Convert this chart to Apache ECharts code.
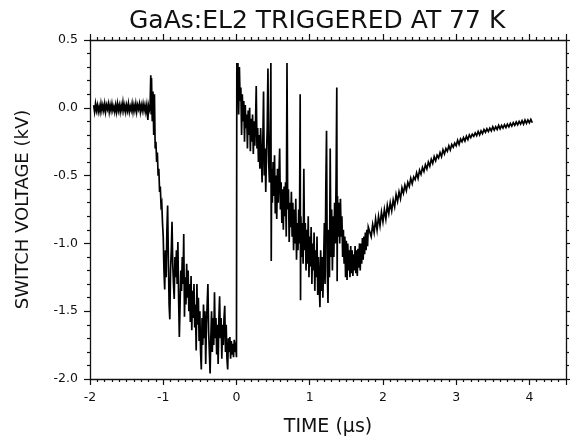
<!DOCTYPE html>
<html>
<head>
<meta charset="utf-8">
<script src="https://cdn.jsdelivr.net/npm/echarts@6/dist/echarts.min.js"></script>
<style>
  html, body { margin: 0; padding: 0; background: #fff; }
  #chart { width: 570px; height: 443px; }
</style>
</head>
<body>
<div id="chart"></div>
<script>
// switch voltage trace, [time (us), voltage (kV)]
const baseline = [
  [-1.95, 0.02], [-1.9375, -0.03], [-1.925, 0.03], [-1.9125, -0.02], [-1.9, 0.02], [-1.8875, -0.03],
  [-1.875, 0.01], [-1.8625, -0.03], [-1.85, 0.03], [-1.8375, -0.02], [-1.825, 0.02], [-1.8125, -0.02],
  [-1.8, 0.03], [-1.7875, -0.03], [-1.775, 0.02], [-1.7625, -0.01], [-1.75, 0.03], [-1.7375, -0.03],
  [-1.725, 0.02], [-1.7125, -0.02], [-1.7, 0.03], [-1.6875, -0.02], [-1.675, 0.01], [-1.6625, -0.03],
  [-1.65, 0.02], [-1.6375, -0.03], [-1.625, 0.03], [-1.6125, -0.02], [-1.6, 0.02], [-1.5875, -0.03],
  [-1.575, 0.02], [-1.5625, -0.02], [-1.55, 0.04], [-1.5375, -0.02], [-1.525, 0.02], [-1.5125, -0.03],
  [-1.5, 0.02], [-1.4875, -0.02], [-1.475, 0.03], [-1.4625, -0.03], [-1.45, 0.01], [-1.4375, -0.02],
  [-1.425, 0.03], [-1.4125, -0.03], [-1.4, 0.02], [-1.3875, -0.02], [-1.375, 0.03], [-1.3625, -0.03],
  [-1.35, 0.02], [-1.3375, -0.01], [-1.325, 0.03], [-1.3125, -0.03], [-1.3, 0.02], [-1.2875, -0.02],
  [-1.275, 0.03], [-1.2625, -0.02], [-1.25, 0.02], [-1.2375, -0.03], [-1.225, 0.02], [-1.21, -0.09],
  [-1.2, 0.01]
];

const onset = [
  [-1.19, -0.02], [-1.18, 0.0], [-1.17, 0.24], [-1.165, -0.05], [-1.16, 0.22], [-1.15, -0.1],
  [-1.14, 0.12], [-1.13, -0.2], [-1.12, 0.1], [-1.11, -0.3], [-1.1, -0.25], [-1.09, -0.4],
  [-1.08, -0.33], [-1.07, -0.5], [-1.06, -0.45], [-1.05, -0.62], [-1.04, -0.58], [-1.03, -0.72],
  [-1.02, -0.7], [-1.01, -0.85]
];

const collapse = [
  [-1.0, -0.95], [-0.99, -1.2], [-0.98, -1.34], [-0.97, -1.05], [-0.96, -1.25], [-0.95, -0.9],
  [-0.94, -0.72], [-0.93, -1.1], [-0.92, -1.45], [-0.91, -1.56], [-0.9, -1.2], [-0.89, -1.05],
  [-0.88, -0.84], [-0.87, -1.15], [-0.86, -1.3], [-0.85, -1.41], [-0.84, -1.1], [-0.83, -1.25],
  [-0.82, -1.05], [-0.81, -1.3], [-0.8, -0.99], [-0.79, -1.4], [-0.78, -1.69], [-0.77, -1.45],
  [-0.76, -1.2], [-0.75, -1.35], [-0.74, -1.1], [-0.73, -1.3], [-0.72, -0.93], [-0.71, -1.54],
  [-0.7, -1.25], [-0.69, -1.45], [-0.68, -1.15], [-0.67, -1.4], [-0.66, -1.2], [-0.65, -1.5],
  [-0.64, -1.3], [-0.63, -1.58], [-0.62, -1.24], [-0.61, -1.64], [-0.6, -1.35], [-0.59, -1.55],
  [-0.58, -1.3], [-0.57, -1.62], [-0.56, -1.45], [-0.55, -1.79], [-0.54, -1.3], [-0.53, -1.6],
  [-0.52, -1.4], [-0.51, -1.72], [-0.5, -1.5], [-0.49, -1.8], [-0.48, -1.93], [-0.47, -1.55],
  [-0.46, -1.75], [-0.45, -1.45], [-0.44, -1.7], [-0.43, -1.5], [-0.42, -1.89], [-0.41, -1.6],
  [-0.4, -1.45], [-0.39, -1.3], [-0.38, -1.65], [-0.37, -1.8], [-0.36, -1.96], [-0.35, -1.7],
  [-0.34, -1.5], [-0.33, -1.8], [-0.32, -1.55], [-0.31, -1.75], [-0.3, -1.36], [-0.29, -1.7],
  [-0.28, -1.55], [-0.27, -1.82], [-0.26, -1.6], [-0.25, -1.89], [-0.24, -1.55], [-0.23, -1.39],
  [-0.22, -1.7], [-0.21, -1.55], [-0.2, -1.85], [-0.19, -1.6], [-0.18, -1.75], [-0.17, -1.55],
  [-0.16, -1.46], [-0.15, -1.8], [-0.14, -1.6], [-0.13, -1.85], [-0.12, -1.93], [-0.11, -1.7],
  [-0.1, -1.8], [-0.09, -1.69], [-0.08, -1.85], [-0.07, -1.72], [-0.06, -1.82], [-0.05, -1.74],
  [-0.04, -1.84], [-0.03, -1.71], [-0.02, -1.8], [-0.01, -1.76], [0.0, -1.84]
];

const recovery = [
  [0.005, 0.33], [0.01, 0.2], [0.02, 0.33], [0.03, -0.05], [0.04, 0.3], [0.05, 0.05], [0.06, 0.15],
  [0.07, -0.2], [0.08, 0.1], [0.09, -0.1], [0.1, 0.05], [0.11, -0.25], [0.12, 0.02], [0.13, -0.15],
  [0.14, -0.05], [0.15, -0.3], [0.16, -0.02], [0.17, -0.2], [0.18, 0.0], [0.19, -0.32], [0.2, -0.08],
  [0.21, -0.25], [0.22, -0.05], [0.23, -0.34], [0.24, -0.1], [0.25, -0.28], [0.26, -0.12], [0.27, 0.16],
  [0.28, -0.3], [0.29, -0.15], [0.3, -0.4], [0.31, -0.2], [0.32, -0.45], [0.33, -0.15], [0.34, -0.35],
  [0.35, -0.55], [0.36, -0.25], [0.37, 0.12], [0.38, -0.5], [0.39, -0.3], [0.4, -0.62], [0.41, -0.35],
  [0.42, -0.15], [0.43, 0.29], [0.44, -0.4], [0.45, -0.55], [0.46, -0.25], [0.47, 0.33], [0.475, -1.13],
  [0.48, -0.45], [0.49, -0.7], [0.5, -0.4], [0.51, -0.65], [0.52, -0.35], [0.53, -0.78], [0.54, -0.5],
  [0.55, -0.82], [0.56, -0.45], [0.57, -0.7], [0.58, -0.5], [0.59, -0.3], [0.6, -0.75], [0.61, -0.55],
  [0.62, -0.85], [0.63, -0.6], [0.64, -0.9], [0.65, -0.58], [0.66, -0.8], [0.67, -0.55], [0.68, -0.95],
  [0.69, 0.33], [0.7, -0.75], [0.71, -0.6], [0.72, -0.99], [0.73, -0.7], [0.74, -0.88], [0.75, -0.62],
  [0.76, -0.95], [0.77, -0.7], [0.78, -1.05], [0.79, -0.75], [0.8, -1.0], [0.81, -0.67], [0.82, -1.12],
  [0.83, -0.85], [0.84, -1.05], [0.85, -0.75], [0.86, -1.0], [0.87, 0.1], [0.875, -1.42], [0.88, -0.8],
  [0.89, -1.1], [0.9, -0.85], [0.91, -1.15], [0.92, -0.45], [0.93, -1.05], [0.94, -0.85], [0.95, -1.2],
  [0.96, -0.9], [0.97, -1.15], [0.98, -0.8], [0.99, -1.25], [1.0, -0.95], [1.01, -1.17], [1.02, -0.88],
  [1.03, -1.3], [1.04, -1.0], [1.05, -1.2], [1.06, -0.92], [1.07, -1.35], [1.08, -1.05], [1.09, -1.25],
  [1.1, -0.95], [1.11, -1.38], [1.12, -1.1], [1.13, -1.3], [1.14, -1.47], [1.15, -1.05], [1.16, -1.35],
  [1.17, -1.1], [1.18, -1.4], [1.19, -1.15], [1.2, -0.85], [1.21, -1.3], [1.22, -0.6], [1.23, -0.17],
  [1.24, -1.2], [1.25, -1.44], [1.26, -0.9], [1.27, -1.25], [1.28, -0.3], [1.29, -1.1], [1.3, -0.75],
  [1.31, -1.2], [1.32, -0.8], [1.33, -1.1], [1.34, -0.7], [1.35, -1.0], [1.36, -0.55], [1.37, 0.15],
  [1.375, -1.28], [1.38, -0.65], [1.39, -0.95], [1.4, -0.7], [1.41, -1.0], [1.42, -0.67], [1.43, -0.95],
  [1.44, -0.8], [1.45, -1.1], [1.46, -0.9], [1.47, -1.15], [1.48, -0.95], [1.49, -1.25], [1.5, -0.98],
  [1.51, -1.27], [1.52, -1.0], [1.53, -1.2], [1.54, -1.05], [1.55, -1.25], [1.56, -1.02], [1.57, -1.22],
  [1.58, -1.05], [1.59, -1.24], [1.6, -1.08], [1.61, -1.2], [1.62, -1.02], [1.63, -1.22], [1.64, -1.05],
  [1.65, -1.24], [1.66, -1.04], [1.67, -1.18], [1.68, -1.0], [1.69, -1.2], [1.7, -1.0], [1.71, -1.15],
  [1.72, -0.96], [1.73, -1.12], [1.74, -0.95], [1.75, -1.08], [1.76, -0.92], [1.77, -1.05], [1.78, -0.9],
  [1.79, -1.02], [1.8, -0.88]
];

const relax = [
  [1.82, -0.88], [1.84, -0.95], [1.86, -0.86], [1.88, -0.92], [1.9, -0.82], [1.92, -0.9], [1.94, -0.8],
  [1.96, -0.87], [1.98, -0.77], [2.0, -0.84], [2.02, -0.75], [2.04, -0.82], [2.06, -0.72], [2.08, -0.78],
  [2.1, -0.7], [2.12, -0.76], [2.14, -0.68], [2.16, -0.73], [2.18, -0.64], [2.2, -0.69], [2.22, -0.62],
  [2.24, -0.67], [2.26, -0.59], [2.28, -0.63], [2.3, -0.57], [2.32, -0.61], [2.34, -0.55], [2.36, -0.58],
  [2.38, -0.52], [2.4, -0.56], [2.42, -0.51], [2.44, -0.53], [2.46, -0.48], [2.48, -0.52], [2.5, -0.46],
  [2.52, -0.49], [2.54, -0.44], [2.56, -0.47], [2.58, -0.42], [2.6, -0.45], [2.62, -0.4], [2.64, -0.43],
  [2.66, -0.38], [2.68, -0.41], [2.7, -0.36], [2.72, -0.39], [2.74, -0.35], [2.76, -0.37], [2.78, -0.33],
  [2.8, -0.36], [2.82, -0.31], [2.84, -0.34], [2.86, -0.3], [2.88, -0.32], [2.9, -0.28], [2.92, -0.31],
  [2.94, -0.27], [2.96, -0.29], [2.98, -0.26], [3.0, -0.28], [3.02, -0.24], [3.04, -0.27], [3.06, -0.23],
  [3.08, -0.25], [3.1, -0.22], [3.12, -0.245], [3.14, -0.21], [3.16, -0.235], [3.18, -0.2], [3.2, -0.22],
  [3.22, -0.195], [3.24, -0.21], [3.26, -0.185], [3.28, -0.205], [3.3, -0.175], [3.32, -0.2], [3.34, -0.17],
  [3.36, -0.19], [3.38, -0.16], [3.4, -0.18], [3.42, -0.155], [3.44, -0.175], [3.46, -0.15], [3.48, -0.17],
  [3.5, -0.14], [3.52, -0.165], [3.54, -0.14], [3.56, -0.16], [3.58, -0.13], [3.6, -0.155], [3.62, -0.13],
  [3.64, -0.15], [3.66, -0.125], [3.68, -0.145], [3.7, -0.12], [3.72, -0.14], [3.74, -0.115], [3.76, -0.135],
  [3.78, -0.11], [3.8, -0.13], [3.82, -0.105], [3.84, -0.125], [3.86, -0.1], [3.88, -0.12], [3.9, -0.095],
  [3.92, -0.12], [3.94, -0.09], [3.96, -0.115], [3.98, -0.09], [4.0, -0.11], [4.02, -0.085], [4.04, -0.11]
];

const xTicks = [-2, -1, 0, 1, 2, 3, 4];
const yTicks = [-2.0, -1.5, -1.0, -0.5, 0.0, 0.5];

const trace = baseline.concat(onset, collapse, recovery, relax);

const font = "DejaVu Sans";
const ink = "#111";

function axisBase(extra) {
  return Object.assign({
    type: "value",
    splitLine: { show: false },
    axisLine: { show: true, onZero: false, lineStyle: { color: ink, width: 1.3 } },
    axisTick: { show: true, inside: false, length: 6, lineStyle: { color: ink, width: 1.2 } },
    axisLabel: { color: ink, fontFamily: font, fontSize: 12 }
  }, extra);
}

const chart = echarts.init(document.getElementById("chart"), null, { renderer: "canvas" });

chart.setOption({
  animation: false,
  backgroundColor: "#fff",
  title: {
    text: "GaAs:EL2 TRIGGERED AT 77 K",
    left: 124,
    top: 4,
    textStyle: { fontFamily: font, fontSize: 25, fontWeight: "normal", color: ink }
  },
  grid: { left: 90, right: 4, top: 40, bottom: 64 },
  xAxis: [
    axisBase({
      min: -2, max: 4.5, interval: 1, position: "bottom",
      minorTick: { show: true, splitNumber: 10, length: 3, lineStyle: { color: ink, width: 1.2 } },
      axisLabel: {
        color: ink, fontFamily: font, fontSize: 12.5, margin: 12,
        formatter: v => (xTicks.includes(v) ? String(v) : "")
      },
      name: "TIME (\u03bcs)", nameLocation: "middle", nameGap: 39,
      nameTextStyle: { fontFamily: font, fontSize: 19, color: ink }
    }),
    axisBase({
      min: -2, max: 4.5, interval: 1, position: "top",
      minorTick: { show: true, splitNumber: 10, length: 3, lineStyle: { color: ink, width: 1.2 } },
      axisLabel: { show: false }
    })
  ],
  yAxis: [
    axisBase({
      min: -2, max: 0.5, interval: 0.5, position: "left",
      minorTick: { show: true, splitNumber: 5, length: 3, lineStyle: { color: ink, width: 1.2 } },
      axisLabel: {
        color: ink, fontFamily: font, fontSize: 12.5, margin: 12,
        formatter: v => (yTicks.includes(v) ? v.toFixed(1) : "")
      },
      name: "SWITCH VOLTAGE (kV)", nameLocation: "middle", nameGap: 58, nameRotate: 90,
      nameTextStyle: { fontFamily: font, fontSize: 18, color: ink }
    }),
    axisBase({
      min: -2, max: 0.5, interval: 0.5, position: "right",
      minorTick: { show: true, splitNumber: 5, length: 3, lineStyle: { color: ink, width: 1.2 } },
      axisLabel: { show: false }
    })
  ],
  series: [{
    type: "line",
    data: trace,
    xAxisIndex: 0,
    yAxisIndex: 0,
    showSymbol: false,
    symbol: "none",
    sampling: null,
    lineStyle: { color: "#000", width: 1.7, join: "miter" },
    silent: true
  }]
});
</script>
</body>
</html>
